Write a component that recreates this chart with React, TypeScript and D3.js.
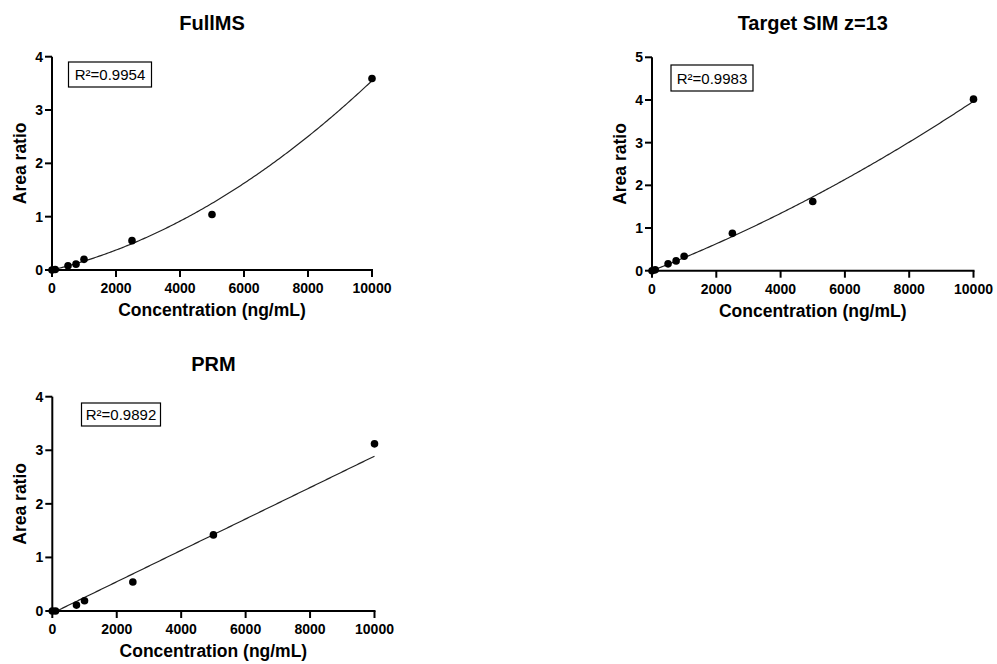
import React from "react";
import * as d3 from "d3";

// ---- data ----
const concFull = [0, 100, 500, 750, 1000, 2500, 5000, 10000];
const ratioFull = [0, 0.01, 0.08, 0.11, 0.2, 0.55, 1.04, 3.59];
const fitFull = [0, 1.45e-4, 2.1e-8]; // quadratic a + b x + c x^2
const r2Full = "R²=0.9954";

const concSim = [0, 100, 500, 750, 1000, 2500, 5000, 10000];
const ratioSim = [0, 0.02, 0.16, 0.23, 0.34, 0.875, 1.62, 4.02];
const fitSim = [0, 2.95e-4, 1.02e-8];
const r2Sim = "R²=0.9983";

const concPrm = [0, 100, 750, 1000, 2500, 5000, 10000];
const ratioPrm = [0, 0.0, 0.11, 0.19, 0.54, 1.42, 3.12];
const fitPrm = [-0.04, 2.93e-4, 0];
const r2Prm = "R²=0.9892";

const xTicks = [0, 2000, 4000, 6000, 8000, 10000];
const yTicks4 = [0, 1, 2, 3, 4];
const yTicks5 = [0, 1, 2, 3, 4, 5];

const FONT = "'Liberation Sans', Arial, Helvetica, sans-serif";

type PanelProps = {
  title: string;
  xs: number[];
  ys: number[];
  fit: number[];
  r2: string;
  yMax: number;
  yTicks: number[];
  left: number;
  right: number;
  top: number;
  bottom: number;
  titleY: number;
  box: { x: number; y: number; w: number; h: number };
};

function Panel(p: PanelProps) {
  const x = d3.scaleLinear().domain([0, 10000]).range([p.left, p.right]);
  const y = d3.scaleLinear().domain([0, p.yMax]).range([p.bottom, p.top]);
  const f = (v: number) => p.fit[0] + p.fit[1] * v + p.fit[2] * v * v;
  // start of fit where it reaches y >= 0
  let x0 = 0;
  if (f(0) < 0) x0 = -p.fit[0] / p.fit[1];
  const pts = d3.range(0, 201).map((i) => x0 + ((10000 - x0) * i) / 200);
  const line = d3
    .line<number>()
    .x((v) => x(v))
    .y((v) => y(f(v)));
  const cx = (p.left + p.right) / 2;
  const cy = (p.top + p.bottom) / 2;
  return (
    <g fontFamily={FONT}>
      <text x={cx} y={p.titleY} textAnchor="middle" fontWeight="bold" fontSize={20}>
        {p.title}
      </text>
      {/* axes */}
      <line x1={p.left} x2={p.left} y1={p.top} y2={p.bottom + 1} stroke="#000" strokeWidth={2} />
      <line x1={p.left - 1} x2={p.right + 1} y1={p.bottom} y2={p.bottom} stroke="#000" strokeWidth={2} />
      {p.yTicks.map((t) => (
        <g key={"y" + t}>
          <line x1={p.left - 7} x2={p.left} y1={y(t)} y2={y(t)} stroke="#000" strokeWidth={2} />
          <text x={p.left - 9} y={y(t) + 5} textAnchor="end" fontWeight="bold" fontSize={14}>
            {t}
          </text>
        </g>
      ))}
      {xTicks.map((t) => (
        <g key={"x" + t}>
          <line x1={x(t)} x2={x(t)} y1={p.bottom} y2={p.bottom + 7} stroke="#000" strokeWidth={2} />
          <text x={x(t)} y={p.bottom + 23} textAnchor="middle" fontWeight="bold" fontSize={14}>
            {t}
          </text>
        </g>
      ))}
      <text x={cx} y={p.bottom + 46} textAnchor="middle" fontWeight="bold" fontSize={17.5}>
        Concentration (ng/mL)
      </text>
      <text
        transform={`translate(${p.left - 26},${cy}) rotate(-90)`}
        textAnchor="middle"
        fontWeight="bold"
        fontSize={17.5}
      >
        Area ratio
      </text>
      {/* fit */}
      <path d={line(pts) || ""} fill="none" stroke="#222" strokeWidth={1.2} />
      {/* points */}
      {p.xs.map((v, i) => (
        <circle key={i} cx={x(v)} cy={y(p.ys[i])} r={3.8} fill="#000" />
      ))}
      {/* r2 box */}
      <rect x={p.box.x} y={p.box.y} width={p.box.w} height={p.box.h} fill="#fff" stroke="#000" strokeWidth={1.2} />
      <text x={p.box.x + p.box.w / 2} y={p.box.y + p.box.h / 2 + 5.5} textAnchor="middle" fontSize={15}>
        {p.r2}
      </text>
    </g>
  );
}

export default function App() {
  return (
    <svg
      width={997}
      height={664}
      style={{ position: "absolute", left: 0, top: 0, background: "#fff" }}
    >
      <rect width={997} height={664} fill="#fff" />
      <Panel
        title="FullMS"
        xs={concFull}
        ys={ratioFull}
        fit={fitFull}
        r2={r2Full}
        yMax={4}
        yTicks={yTicks4}
        left={52}
        right={372}
        top={56.7}
        bottom={270}
        titleY={30}
        box={{ x: 68.5, y: 62, w: 83, h: 25 }}
      />
      <Panel
        title="Target SIM z=13"
        xs={concSim}
        ys={ratioSim}
        fit={fitSim}
        r2={r2Sim}
        yMax={5}
        yTicks={yTicks5}
        left={652}
        right={973.5}
        top={57.3}
        bottom={270.7}
        titleY={30}
        box={{ x: 671, y: 65, w: 82, h: 26 }}
      />
      <Panel
        title="PRM"
        xs={concPrm}
        ys={ratioPrm}
        fit={fitPrm}
        r2={r2Prm}
        yMax={4}
        yTicks={yTicks4}
        left={52.3}
        right={374.5}
        top={396.7}
        bottom={611}
        titleY={371}
        box={{ x: 81.5, y: 403, w: 79, h: 23 }}
      />
    </svg>
  );
}
